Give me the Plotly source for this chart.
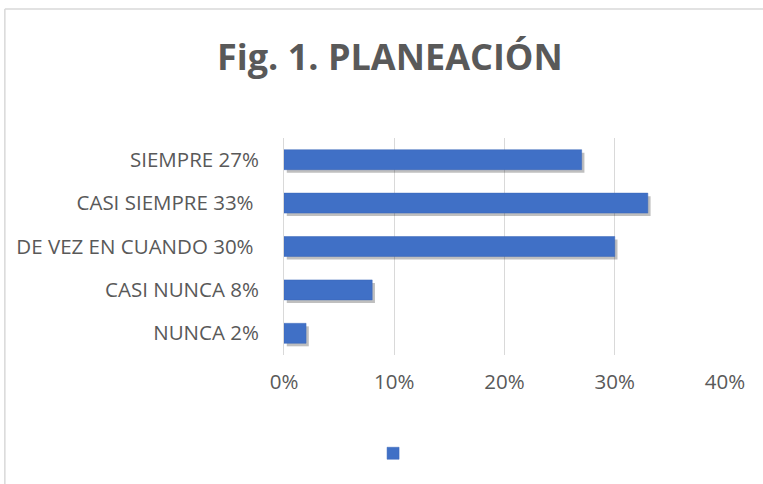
import plotly.graph_objects as go

categories = [
    "NUNCA 2%",
    "CASI NUNCA 8%",
    "DE VEZ EN CUANDO 30% ",
    "CASI SIEMPRE 33% ",
    "SIEMPRE 27%",
]
values = [0.02, 0.08, 0.30, 0.33, 0.27]
tick_vals = [0, 0.1, 0.2, 0.3, 0.4]
tick_text = ["0%", "10%", "20%", "30%", "40%"]

GRAY = "#595959"
BLUE = "#4070C6"

fig = go.Figure()

# soft drop shadow under each bar (Excel style)
fig.add_trace(
    go.Bar(
        y=categories,
        x=values,
        base=0.0025,
        orientation="h",
        width=0.46,
        offset=-0.30,
        marker=dict(color="rgba(0,0,0,0.25)", line=dict(width=0)),
        showlegend=False,
        hoverinfo="skip",
    )
)

fig.add_trace(
    go.Bar(
        y=categories,
        x=values,
        orientation="h",
        width=0.46,
        name="",
        marker=dict(color=BLUE, line=dict(color="#3A66B8", width=0.5)),
        showlegend=True,
    )
)

fig.update_layout(
    width=763,
    height=484,
    barmode="overlay",
    paper_bgcolor="white",
    plot_bgcolor="white",
    margin=dict(l=284, r=38, t=138, b=129),
    title=dict(
        text="<b>Fig. 1. PLANEACIÓN</b>",
        x=0.511,
        xanchor="center",
        y=0.882,
        yanchor="middle",
        font=dict(family="Open Sans", size=36, color=GRAY),
    ),
    font=dict(family="Open Sans", color=GRAY),
    legend=dict(
        orientation="h",
        x=0.253,
        xanchor="center",
        y=-0.386,
        yanchor="top",
        font=dict(size=12),
        itemwidth=30,
    ),
    shapes=[
        dict(
            type="line", xref="paper", yref="paper",
            x0=-0.633, x1=-0.633, y0=-0.7, y1=1.594,
            line=dict(color="#D9D9D9", width=1.5),
        ),
        dict(
            type="line", xref="paper", yref="paper",
            x0=-0.633, x1=1.2, y0=1.594, y1=1.594,
            line=dict(color="#D9D9D9", width=1.5),
        ),
    ],
)

fig.update_xaxes(
    range=[0, 0.4],
    tickvals=tick_vals,
    ticktext=tick_text,
    showgrid=True,
    gridcolor="#D9D9D9",
    gridwidth=1,
    zeroline=False,
    showline=False,
    tickfont=dict(size=20.5, color=GRAY),
    ticks="",
    ticklabelstandoff=12,
    automargin=False,
)
fig.update_yaxes(
    showgrid=False,
    showline=True,
    linecolor="#D9D9D9",
    linewidth=1,
    ticks="",
    ticklabelstandoff=20,
    tickfont=dict(size=20.5, color=GRAY),
    automargin=False,
)

fig.write_html(
    "out.html",
    config={"displayModeBar": False},
    post_script="document.body.style.margin='0px';",
)
